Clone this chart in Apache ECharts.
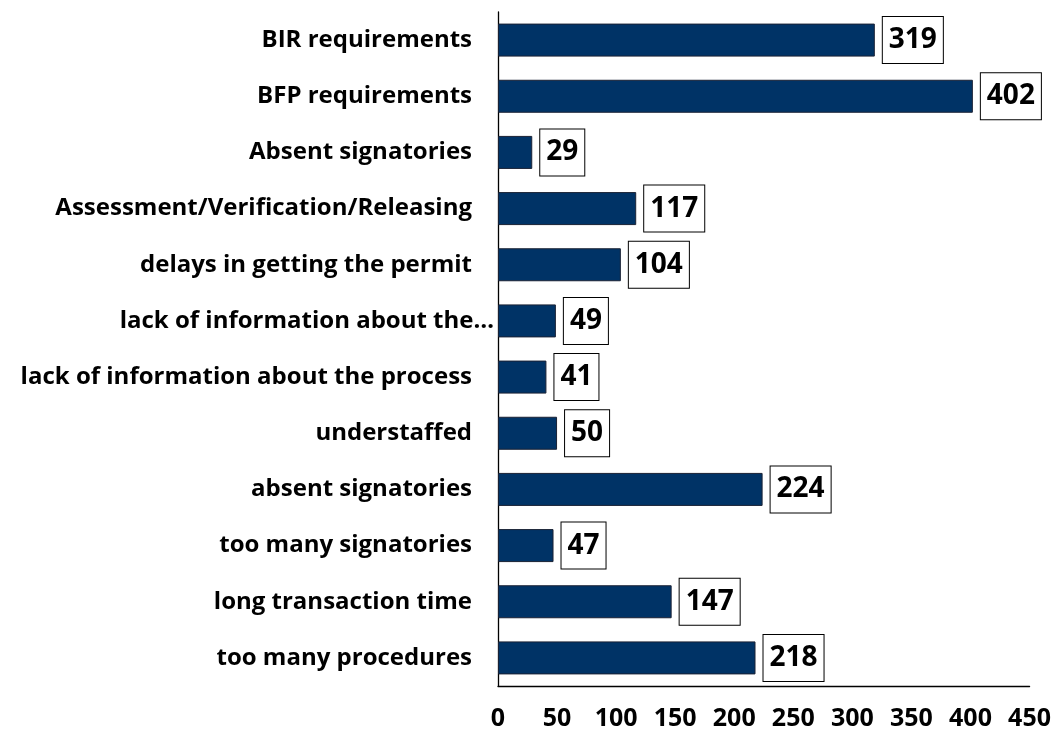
<!DOCTYPE html>
<html><head><meta charset="utf-8">
<script src="https://cdn.jsdelivr.net/npm/echarts@6/dist/echarts.min.js"></script>
<style>html,body{margin:0;padding:0;background:#fff}#c{width:1054px;height:733px}</style>
</head><body><div id="c"></div>
<script>
var categories = ["BIR requirements","BFP requirements","Absent signatories","Assessment/Verification/Releasing","delays in getting the permit","lack of information about the…","lack of information about the process","understaffed","absent signatories","too many signatories","long transaction time","too many procedures"];
var values = [319,402,29,117,104,49,41,50,224,47,147,218];
var xTicks = [0,50,100,150,200,250,300,350,400,450];

var chart = echarts.init(document.getElementById('c'));
var FONT = '"Open Sans", Lato, sans-serif';
chart.setOption({
  animation:false,
  grid:{left:498,right:22,top:12,bottom:47,containLabel:false},
  xAxis:{type:'value',min:xTicks[0],max:xTicks[xTicks.length-1],interval:50,
    axisLine:{show:true,lineStyle:{color:'#000',width:1.3}},
    axisTick:{show:false},splitLine:{show:false},
    axisLabel:{color:'#000',fontWeight:'bold',fontSize:25,fontFamily:FONT,margin:20}},
  yAxis:{type:'category',data:categories,inverse:true,
    axisLine:{show:true,lineStyle:{color:'#000',width:1.3}},
    axisTick:{show:false},
    axisLabel:{margin:4,formatter:function(v){return v.indexOf('…')>=0?'{t|'+v+'}':'{n|'+v+'}';},
      rich:{n:{color:'#000',fontWeight:'bold',fontSize:24,fontFamily:FONT,padding:[0,22,0,0]},
            t:{color:'#000',fontWeight:'bold',fontSize:24,fontFamily:FONT,padding:[0,0,0,0]}}}},
  series:[{type:'bar',data:values,barWidth:33,
    itemStyle:{color:'#003366',borderColor:'#1a2235',borderWidth:1},
    label:{show:true,position:'right',distance:8,color:'#000',fontWeight:'bold',fontSize:28,lineHeight:30,fontFamily:FONT,
      backgroundColor:'#fff',borderColor:'#000',borderWidth:1,padding:[8,6,8,6]}}]
});
</script></body></html>
